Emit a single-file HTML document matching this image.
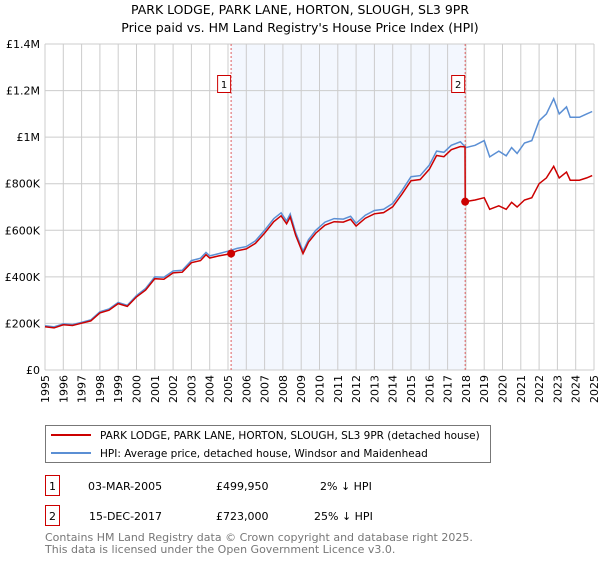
<!DOCTYPE html>
<html><head><meta charset="utf-8"><style>
body{margin:0;width:600px;height:560px;background:#fff;font-family:"Liberation Sans","DejaVu Sans",sans-serif;overflow:hidden}
svg text{font-family:"DejaVu Sans","Liberation Sans",sans-serif}
</style></head><body>
<svg id="c" width="600" height="560">
<text x="300" y="14" text-anchor="middle" font-size="12.5">PARK LODGE, PARK LANE, HORTON, SLOUGH, SL3 9PR</text>
<text x="300" y="32" text-anchor="middle" font-size="12.5">Price paid vs. HM Land Registry's House Price Index (HPI)</text>
<g id="grid"></g><g id="marks"></g><g id="axes"></g>
<g>
<rect x="45.5" y="425.5" width="445" height="37" fill="#fff" stroke="#777"/>
<line x1="51" y1="435" x2="91" y2="435" stroke="#cc0000" stroke-width="2"/>
<text x="100" y="439" font-size="10.5">PARK LODGE, PARK LANE, HORTON, SLOUGH, SL3 9PR (detached house)</text>
<line x1="51" y1="453" x2="91" y2="453" stroke="#5b8fd4" stroke-width="2"/>
<text x="100" y="457" font-size="10.5">HPI: Average price, detached house, Windsor and Maidenhead</text>
</g>
<g font-size="11">
<rect x="45.5" y="475.5" width="14" height="20" fill="#fff" stroke="#cc0000"/><text x="52.5" y="490" text-anchor="middle">1</text>
<text x="88" y="490">03-MAR-2005</text><text x="216" y="490">£499,950</text><text x="320" y="490">2% ↓ HPI</text>
<rect x="45.5" y="505.5" width="14" height="20" fill="#fff" stroke="#cc0000"/><text x="52.5" y="520" text-anchor="middle">2</text>
<text x="89" y="520">15-DEC-2017</text><text x="216" y="520">£723,000</text><text x="314" y="520">25% ↓ HPI</text>
</g>
<text x="45" y="541" font-size="11" fill="#777">Contains HM Land Registry data © Crown copyright and database right 2025.</text>
<text x="45" y="553" font-size="11" fill="#777">This data is licensed under the Open Government Licence v3.0.</text>
</svg>
<script>
const hpiT=[1995,1995.5,1996,1996.5,1997,1997.5,1998,1998.5,1999,1999.5,2000,2000.5,2001,2001.5,2002,2002.5,2003,2003.5,2003.8,2004,2004.5,2005,2005.5,2006,2006.5,2007,2007.5,2007.9,2008.2,2008.4,2008.7,2009.1,2009.4,2009.8,2010.3,2010.8,2011.3,2011.7,2012,2012.5,2013,2013.5,2014,2014.5,2015,2015.5,2016,2016.4,2016.8,2017.2,2017.7,2018,2018.5,2019,2019.3,2019.8,2020.2,2020.5,2020.8,2021.2,2021.6,2022,2022.4,2022.8,2023.1,2023.5,2023.7,2024.2,2024.6,2024.9];
const hpiV=[190,185,198,195,205,215,250,262,290,278,320,350,400,398,425,428,470,480,505,490,500,510,522,530,555,600,650,675,640,670,590,510,560,600,635,650,648,660,630,665,685,690,715,770,830,835,880,940,935,965,980,955,965,985,915,940,920,955,930,975,985,1070,1100,1165,1100,1130,1085,1085,1100,1110];
const redT=[1995,1995.5,1996,1996.5,1997,1997.5,1998,1998.5,1999,1999.5,2000,2000.5,2001,2001.5,2002,2002.5,2003,2003.5,2003.8,2004,2004.5,2005.17,2005.5,2006,2006.5,2007,2007.5,2007.9,2008.2,2008.4,2008.7,2009.1,2009.4,2009.8,2010.3,2010.8,2011.3,2011.7,2012,2012.5,2013,2013.5,2014,2014.5,2015,2015.5,2016,2016.4,2016.8,2017.2,2017.7,2017.95,2017.96,2018.5,2019,2019.3,2019.8,2020.2,2020.5,2020.8,2021.2,2021.6,2022,2022.4,2022.8,2023.1,2023.5,2023.7,2024.2,2024.6,2024.9];
const redV=[186,181,194,191,201,211,245,257,285,273,314,343,392,390,417,420,461,470,495,481,490,500,512,520,544,588,637,662,628,657,578,500,549,588,622,637,635,647,618,652,671,676,701,755,813,818,862,921,916,946,960,958,723,730,740,690,705,690,720,700,730,740,800,825,875,825,850,815,815,825,835];
const sales=[{t:2005.17,v:499.95,l:"1"},{t:2017.96,v:723,l:"2"}];
const yTicks=[0,200,400,600,800,1000,1200,1400];
const yLabels=["£0","£200K","£400K","£600K","£800K","£1M","£1.2M","£1.4M"];
const years=[];for(let y=1995;y<=2025;y++)years.push(y);
const X0=45,X1=594,Y0=370,Y1=44;
const x=t=>X0+(t-1995)/30*(X1-X0), y=v=>Y0-v/1400*(Y0-Y1);
const NS="http://www.w3.org/2000/svg";
function mk(p,tag,a){const e=document.createElementNS(NS,tag);for(const k in a)e.setAttribute(k,a[k]);p.appendChild(e);return e;}
const G=document.getElementById('grid'),M=document.getElementById('marks'),A=document.getElementById('axes');
const sh=mk(G,'rect',{x:x(sales[0].t),y:Y1,width:x(sales[1].t)-x(sales[0].t),height:Y0-Y1,fill:'#eef3fd',opacity:0.7});


years.forEach(yr=>{const l=mk(G,'line',{x1:x(yr),x2:x(yr),y1:Y1,y2:Y0,stroke:'#ccc'});


const t=mk(A,'text',{x:0,y:0,'font-size':11,'text-anchor':'end',transform:`translate(${x(yr)+4},${Y0+5}) rotate(-90)`});t.textContent=yr;

});
yTicks.forEach((v,i)=>{const l=mk(G,'line',{x1:X0,x2:X1,y1:y(v),y2:y(v),stroke:'#ccc'});


const t=mk(A,'text',{x:X0-5,y:y(v)+4,'font-size':11,'text-anchor':'end'});t.textContent=yLabels[i];

});
sales.forEach(s=>{const l=mk(M,'line',{x1:x(s.t),x2:x(s.t),y1:Y1,y2:Y0,stroke:'#e06060','stroke-dasharray':'2,2'});

});
const pl=(T,V)=>T.map((t,i)=>x(t).toFixed(1)+','+y(V[i]).toFixed(1)).join(' ');
const h=mk(M,'polyline',{points:pl(hpiT,hpiV),fill:'none',stroke:'#5b8fd4','stroke-width':1.5});


const r=mk(M,'polyline',{points:pl(redT,redV),fill:'none',stroke:'#cc0000','stroke-width':1.5});


sales.forEach(s=>{const c=mk(M,'circle',{cx:x(s.t),cy:y(s.v),r:4,fill:'#cc0000'});


const b=mk(M,'rect',{x:x(s.t)-13.5,y:75.5,width:13,height:17,fill:'#fff',stroke:'#cc0000'});


const t=mk(M,'text',{x:x(s.t)-7,y:88,'font-size':10,'text-anchor':'middle'});t.textContent=s.l;

});
</script>
</body></html>
